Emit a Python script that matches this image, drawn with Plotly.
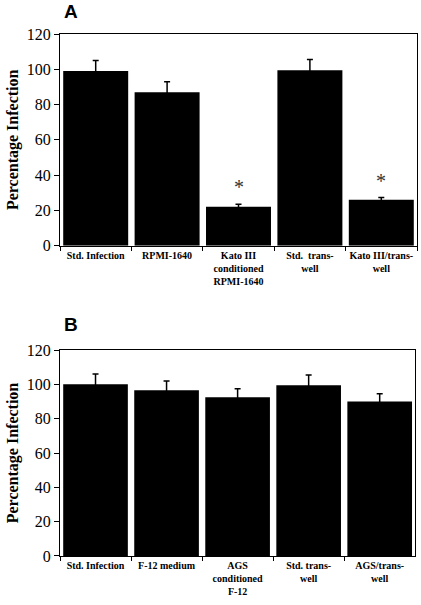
import plotly.graph_objects as go

# ---- data ----
cats_a = ["Std. Infection", "RPMI-1640", "Kato III<br>conditioned<br>RPMI-1640",
          "Std.  trans-<br>well", "Kato III/trans-<br>well"]
vals_a = [99, 87, 22, 99.5, 26]
errs_a = [6, 6, 1.5, 6, 1.3]
sig_a = [False, False, True, False, True]

cats_b = ["Std. Infection", "F-12 medium", "AGS<br>conditioned<br>F-12",
          "Std. trans-<br>well", "AGS/trans-<br>well"]
vals_b = [100, 96.5, 92.5, 99.5, 90]
errs_b = [6, 5.5, 5, 6, 4.5]

y_ticks = [0, 20, 40, 60, 80, 100, 120]

SERIF = "Liberation Serif, Times New Roman, serif"

fig = go.Figure()

def bar(x, y, e, xa, ya):
    return go.Bar(
        x=x, y=y, xaxis=xa, yaxis=ya,
        marker=dict(color="black", line=dict(width=0)),
        error_y=dict(type="data", array=e, visible=True, color="black",
                     thickness=1.5, width=3),
        showlegend=False,
    )

fig.add_trace(bar(cats_a, vals_a, errs_a, "x", "y"))
fig.add_trace(bar(cats_b, vals_b, errs_b, "x2", "y2"))

# significance asterisks
for c, v, e, s in zip(cats_a, vals_a, errs_a, sig_a):
    if s:
        fig.add_annotation(x=c, y=v + e, xref="x", yref="y", text="*",
                           showarrow=False, yanchor="bottom", yshift=4,
                           font=dict(family=SERIF, size=20, color="#333"))

xcommon = dict(
    type="category", showline=True, linecolor="black", linewidth=1.2,
    mirror=True, ticks="outside", ticklen=4, tickcolor="black",
    tickson="boundaries", showgrid=False, tickangle=0, automargin=False,
    tickfont=dict(family=SERIF, size=10, color="black"),
)
ycommon = dict(
    range=[0, 120], tickvals=y_ticks, showline=True, linecolor="black",
    linewidth=1.2, mirror=True, ticks="outside", ticklen=5, tickcolor="black",
    showgrid=False, zeroline=False, automargin=False,
    tickfont=dict(family=SERIF, size=16, color="black"),
    title=dict(text="<b>Percentage Infection</b>", standoff=4,
               font=dict(family=SERIF, size=16, color="black")),
)

fig.update_layout(
    width=421, height=605,
    margin=dict(l=60, r=4, t=34, b=49),
    paper_bgcolor="white", plot_bgcolor="white",
    bargap=0.09,
    xaxis=dict(**xcommon, domain=[0, 1], anchor="y"),
    yaxis=dict(**ycommon, domain=[0.5945, 1], anchor="x"),
    xaxis2=dict(**xcommon, domain=[0, 0.995], anchor="y2"),
    yaxis2=dict(**ycommon, domain=[0, 0.3946], anchor="x2"),
)

# bold tick labels
fig.update_xaxes(tickprefix="<b>", ticksuffix="</b>")
fig.update_yaxes(tickprefix="<b>", ticksuffix="</b>")

fig.add_annotation(x=0.005, y=1.019, xref="paper", yref="paper", text="<b>A</b>",
                   showarrow=False, xanchor="left", yanchor="bottom",
                   font=dict(family="Liberation Sans, Arial, sans-serif", size=19, color="black"))
fig.add_annotation(x=0.005, y=0.4195, xref="paper", yref="paper", text="<b>B</b>",
                   showarrow=False, xanchor="left", yanchor="bottom",
                   font=dict(family="Liberation Sans, Arial, sans-serif", size=19, color="black"))

fig.write_html("out.html", config={"displayModeBar": False},
               post_script="document.body.style.margin='0';document.body.style.overflow='hidden';")
